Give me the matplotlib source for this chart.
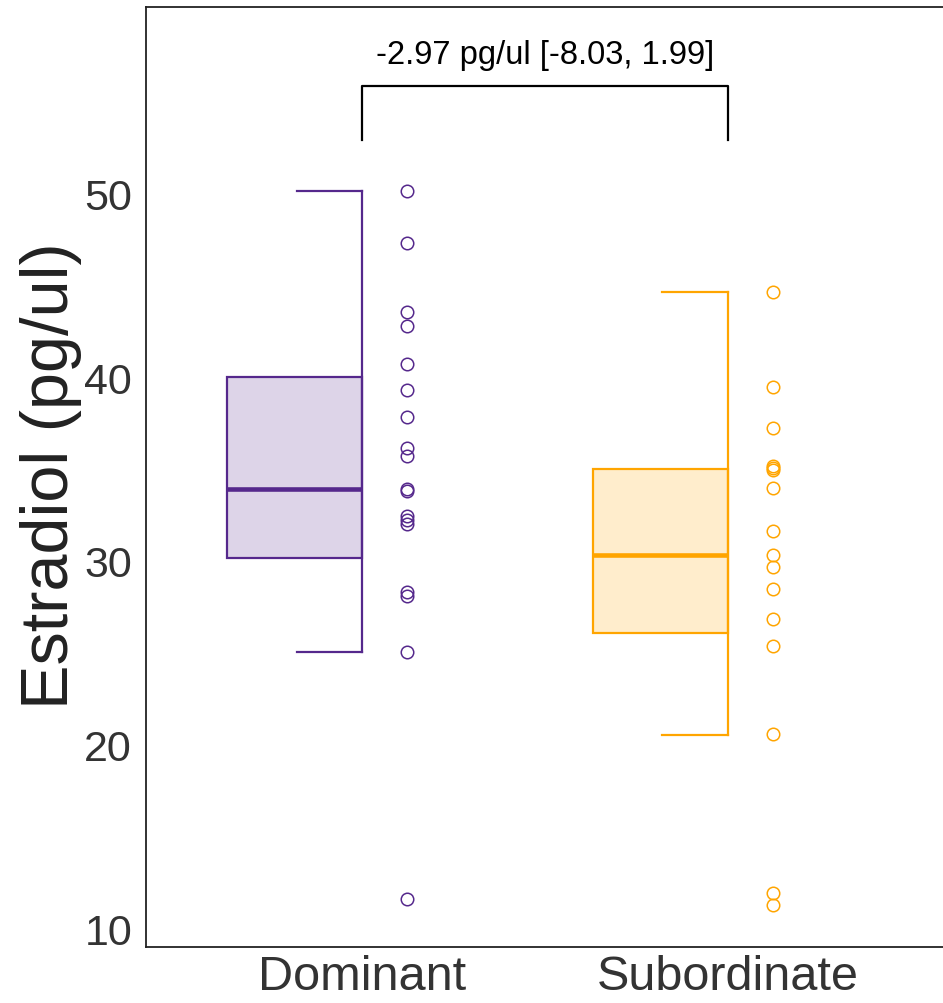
import matplotlib
matplotlib.use('Agg')
import matplotlib.pyplot as plt
import numpy as np
from matplotlib.patches import Rectangle

plt.rcParams['font.family'] = ['Liberation Sans', 'DejaVu Sans']

categories = ['Dominant', 'Subordinate']
dominant_values = [50.16, 47.33, 43.57, 42.81, 40.74, 39.32, 37.85, 36.16, 35.72,
                   33.92, 33.81, 32.45, 32.23, 32.02, 28.31, 28.09, 25.04, 11.58]
subordinate_values = [44.66, 39.50, 37.26, 35.15, 35.05, 34.96, 33.96, 31.64, 30.34,
                      29.65, 28.50, 26.83, 25.37, 20.55, 11.93, 11.25]
# lower whisker, Q1, median, Q3, upper whisker
dominant_box = [25.04, 30.16, 33.92, 40.01, 50.16]
subordinate_box = [20.50, 26.06, 30.34, 35.00, 44.68]
line_colors = ['#55288C', '#FFA500']
fill_colors = ['#DDD4E8', '#FFEDCC']
annotation = '-2.97 pg/ul [-8.03, 1.99]'
bracket_low, bracket_high = 52.94, 55.89
y_ticks = [10, 20, 30, 40, 50]
y_label = 'Estradiol (pg/ul)'

fig = plt.figure(figsize=(9.43, 10.04), dpi=100)
ax = fig.add_axes([146/943, 56/1004, 800/943, 940/1004])

box_w = 0.37
cap_w = 0.18
pt_off = 0.122
for i, (vals, stats) in enumerate([(dominant_values, dominant_box),
                                   (subordinate_values, subordinate_box)]):
    pos = i + 1
    c = line_colors[i]
    lo, q1, med, q3, hi = stats
    ax.add_patch(Rectangle((pos - box_w, q1), box_w, q3 - q1, facecolor=fill_colors[i],
                           edgecolor=c, linewidth=1.6, zorder=2))
    ax.plot([pos - box_w, pos], [med, med], color=c, lw=3.3, solid_capstyle='butt', zorder=3)
    ax.plot([pos, pos], [lo, hi], color=c, lw=1.6, zorder=3)
    ax.plot([pos - cap_w, pos], [hi, hi], color=c, lw=1.6, zorder=3)
    ax.plot([pos - cap_w, pos], [lo, lo], color=c, lw=1.6, zorder=3)
    ax.plot(np.full(len(vals), pos + pt_off), vals, 'o', mfc='none', mec=c,
            ms=9, mew=1.1, zorder=4)

ax.plot([1, 1, 2, 2], [bracket_low, bracket_high, bracket_high, bracket_low],
        color='black', lw=1.6)
ax.text(1.5, 57.6, annotation, ha='center', va='center', fontsize=23.5, color='black')

ax.set_xlim(0.4077, 0.4077 + 800/365.5)
ax.set_ylim(8.965, 60.19)
ax.set_xticks([1, 2])
ax.set_xticklabels(categories)
ax.set_yticks(y_ticks)
ax.tick_params(axis='both', length=0)
ax.tick_params(axis='y', labelsize=31, labelcolor='#333333', pad=10)
ax.tick_params(axis='x', labelsize=35, labelcolor='#333333', pad=5)
for s in ax.spines.values():
    s.set_linewidth(1.3)
    s.set_color('#222222')

ax.set_ylabel(y_label, fontsize=48, color='#222222')
ax.yaxis.set_label_coords(-95/800, 0.502)
ax.yaxis.label.set_verticalalignment('center')

fig.savefig('out.png', dpi=100)
